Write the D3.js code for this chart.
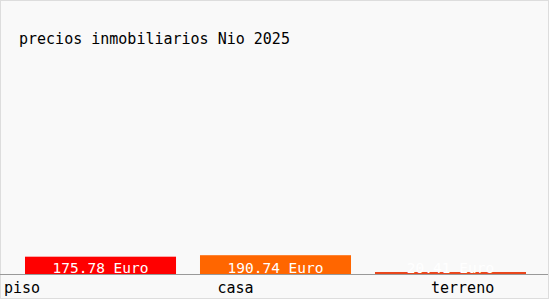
<!DOCTYPE html>
<html>
  <head>
    <meta charset="utf-8">
    <title>precios inmobiliarios Nio 2025</title>
    <script src="https://d3js.org/d3.v7.min.js"></script>
    <style>
      body {
        margin: 0;
        background: #fff;
      }
      #chart text {
        font-family: "DejaVu Sans Mono", monospace;
      }
    </style>
  </head>
  <body>
    <div id="chart"></div>
    <script>
      const title = "precios inmobiliarios Nio 2025";
      const categories = ["piso", "casa", "terreno"];
      const values = [175.78, 190.74, 20.41];
      const valueLabels = ["175.78 Euro", "190.74 Euro", "20.41 Euro"];
      const colors = ["#ff0000", "#ff6600", "#e9461c"];

      const width = 550, height = 300;
      const baseline = 274;

      const svg = d3.select("#chart").append("svg")
        .attr("width", width)
        .attr("height", height);

      // background + thin border
      svg.append("rect")
        .attr("x", 0.5).attr("y", 0.5)
        .attr("width", width - 2).attr("height", height - 2)
        .attr("fill", "#f9f9f9")
        .attr("stroke", "#dddddd");

      svg.append("text")
        .attr("x", 19)
        .attr("y", 44)
        .attr("font-size", "15px")
        .attr("fill", "#000")
        .text(title);

      const x = d3.scaleBand()
        .domain(categories)
        .range([25, 526])
        .paddingInner(0.137)
        .paddingOuter(0);

      const y = d3.scaleLinear()
        .domain([0, 2000])
        .range([baseline, 77]);

      const color = d3.scaleOrdinal().domain(categories).range(colors);

      const rows = categories.map((c, i) => ({cat: c, value: values[i], label: valueLabels[i]}));

      svg.selectAll(".bar")
        .data(rows)
        .enter().append("rect")
          .attr("class", "bar")
          .attr("x", d => x(d.cat))
          .attr("width", x.bandwidth())
          .attr("y", d => y(d.value))
          .attr("height", d => baseline - y(d.value))
          .attr("fill", d => color(d.cat));

      svg.selectAll(".val")
        .data(rows)
        .enter().append("text")
          .attr("class", "val")
          .attr("x", d => x(d.cat) + x.bandwidth() / 2)
          .attr("y", baseline - 1)
          .attr("text-anchor", "middle")
          .attr("font-size", "14.5px")
          .attr("fill", "#fff")
          .text(d => d.label);

      // axis line
      svg.append("line")
        .attr("x1", 0).attr("x2", 548)
        .attr("y1", baseline + 0.5).attr("y2", baseline + 0.5)
        .attr("stroke", "#999");

      // category labels
      const lx = d3.scalePoint()
        .domain(categories)
        .range([4, 431]);

      svg.selectAll(".cat")
        .data(categories)
        .enter().append("text")
          .attr("class", "cat")
          .attr("x", d => lx(d))
          .attr("y", 293)
          .attr("font-size", "15px")
          .attr("fill", "#000")
          .text(d => d);
    </script>
  </body>
</html>
